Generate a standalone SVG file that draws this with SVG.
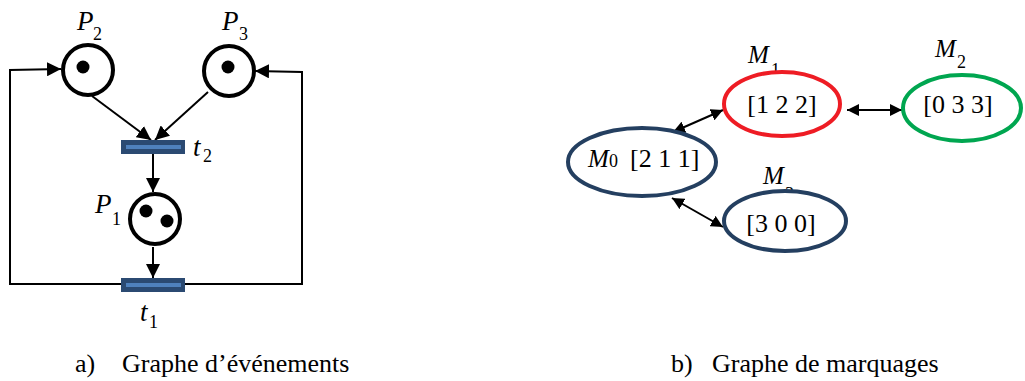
<svg xmlns="http://www.w3.org/2000/svg" width="1025" height="381" viewBox="0 0 1025 381">
<defs>
<marker id="ah2" viewBox="0 0 10 10" refX="10" refY="5" markerWidth="14" markerHeight="14" orient="auto-start-reverse" markerUnits="userSpaceOnUse">
<path d="M0,0 L10,5 L0,10 z" fill="#000"/>
</marker>
<marker id="ah3" viewBox="0 0 10 10" refX="10" refY="5" markerWidth="12" markerHeight="12" orient="auto-start-reverse" markerUnits="userSpaceOnUse">
<path d="M0,0 L10,5 L0,10 z" fill="#000"/>
</marker>
</defs>
<style>
.place{fill:#fff;stroke:#000;stroke-width:4}
.tok{fill:#000}
.bar{fill:#2b4a72}
.barin{fill:#4f81bd}
.lbl{font-family:"Liberation Serif",serif;font-style:italic;font-size:27px;fill:#000}
.ml{font-size:25px}
.sub{font-family:"Liberation Serif",serif;font-size:18px;fill:#000}
.vec{font-family:"Liberation Serif",serif;font-size:26px;fill:#000}
.cap{font-family:"Liberation Serif",serif;font-size:26px;fill:#000}
.con{fill:none;stroke:#000;stroke-width:2}
.ell{fill:#fff;stroke-width:4}
</style>
<rect width="1025" height="381" fill="#fff"/>

<g id="connectors">
<polyline class="con" points="121,284 10,284 10,70 61,69" marker-end="url(#ah2)"/>
<polyline class="con" points="185,284 302,284 302,72 255,71" marker-end="url(#ah2)"/>
<line class="con" x1="92" y1="96" x2="151" y2="140" marker-end="url(#ah2)"/>
<line class="con" x1="208" y1="92" x2="155" y2="140" marker-end="url(#ah2)"/>
<line class="con" x1="153" y1="154" x2="153" y2="192" marker-end="url(#ah2)"/>
<line class="con" x1="153" y1="247" x2="153" y2="278" marker-end="url(#ah2)"/>
<line class="con" x1="673" y1="132" x2="723" y2="110" marker-start="url(#ah3)" marker-end="url(#ah3)"/>
<line class="con" x1="847" y1="110" x2="902" y2="110" marker-start="url(#ah3)" marker-end="url(#ah3)"/>
<line class="con" x1="672" y1="198" x2="723" y2="227" marker-start="url(#ah3)" marker-end="url(#ah3)"/>
</g>

<g id="P2">
<circle class="place" cx="88" cy="70" r="25"/>
<circle class="tok" cx="83" cy="67" r="6.5"/>
<text class="lbl" x="77" y="30">P</text><text class="sub" x="93" y="40">2</text>
</g>
<g id="P3">
<circle class="place" cx="229" cy="71" r="25"/>
<circle class="tok" cx="228" cy="67" r="6.5"/>
<text class="lbl" x="222" y="30">P</text><text class="sub" x="239" y="40">3</text>
</g>
<g id="P1">
<circle class="place" cx="155" cy="219" r="25"/>
<circle class="tok" cx="146" cy="211" r="6.5"/>
<circle class="tok" cx="167" cy="221" r="6.5"/>
<text class="lbl" x="95" y="213">P</text><text class="sub" x="112" y="225">1</text>
</g>
<g id="t2">
<rect class="bar" x="121" y="140" width="64" height="14"/>
<rect class="barin" x="126" y="145" width="55" height="4"/>
<text class="lbl" x="193" y="156">t</text><text class="sub" x="203" y="162">2</text>
</g>
<g id="t1">
<rect class="bar" x="121" y="278" width="64" height="14"/>
<rect class="barin" x="126" y="283" width="55" height="4"/>
<text class="lbl" x="140" y="321">t</text><text class="sub" x="149" y="328">1</text>
</g>

<g id="M1">
<text class="lbl ml" x="748" y="63">M</text><text class="sub" x="771" y="76">1</text>
<ellipse class="ell" stroke="#ee1c24" cx="782" cy="104" rx="58" ry="32"/>
<text class="vec" x="782" y="113" text-anchor="middle">[1 2 2]</text>
</g>
<g id="M2">
<text class="lbl ml" x="935" y="57">M</text><text class="sub" x="957" y="68">2</text>
<ellipse class="ell" stroke="#00a650" cx="962" cy="108" rx="59" ry="33"/>
<text class="vec" x="958" y="113" text-anchor="middle">[0 3 3]</text>
</g>
<g id="M0">
<ellipse class="ell" stroke="#243f60" cx="642" cy="162" rx="74" ry="34"/>
<text class="lbl ml" x="588" y="167">M</text><text class="sub" x="609" y="167" font-size="20">0</text>
<text class="vec" x="630" y="167">[2 1 1]</text>
</g>
<g id="M3">
<text class="lbl ml" x="763" y="184">M</text><text class="sub" x="785" y="200">3</text>
<ellipse class="ell" stroke="#243f60" cx="785" cy="221" rx="61" ry="30"/>
<text class="vec" x="781" y="232" text-anchor="middle">[3 0 0]</text>
</g>

<text class="cap" x="75" y="372">a)</text>
<text class="cap" x="122" y="372">Graphe d’événements</text>
<text class="cap" x="671" y="372">b)</text>
<text class="cap" x="712" y="372">Graphe de marquages</text>
</svg>
